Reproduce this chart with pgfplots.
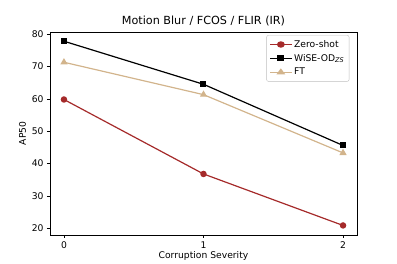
\documentclass[border=0pt]{standalone}
\usepackage{fontspec}
\setmainfont{DejaVu Sans}
\usepackage{pgfplots}
\pgfplotsset{compat=1.18}
\definecolor{zs}{HTML}{A52A2A}
\definecolor{ft}{HTML}{D2B48C}
\begin{document}
\begin{tikzpicture}[x=1pt,y=1pt]
\path[use as bounding box] (0,0) rectangle (397,264);
\begin{axis}[
  at={(50pt,29pt)}, anchor=south west,
  scale only axis, width=307pt, height=203pt,
  xmin=-0.1, xmax=2.1, ymin=17.95, ymax=80.65,
  xtick={0,1,2}, ytick={20,30,...,80},
  tick align=outside, xtick pos=bottom, ytick pos=left,
  major tick length=3pt,
  tick style={black, line width=0.5pt},
  /pgf/number format/assume math mode=true,
  ticklabel style={font=\fontsize{9.2}{10}\selectfont},
  label style={font=\fontsize{9.2}{10}\selectfont},
  xlabel={Corruption Severity}, ylabel={AP50},
  xlabel style={yshift=4pt}, ylabel style={yshift=-1pt},
  title={Motion Blur / FCOS / FLIR (IR)},
  title style={font=\fontsize{11.2}{12}\selectfont, yshift=-4pt},
  axis line style={line width=0.6pt},
  legend style={font=\fontsize{9.2}{11}\selectfont, draw=gray!50, rounded corners=2pt, inner sep=3pt, row sep=1.5pt, at={(0.975,0.985)}, anchor=north east,
    nodes={inner sep=2pt}},
  legend image post style={xscale=1.25},
  legend cell align=left,
  every axis plot/.append style={line width=1.2pt},
]
\addplot[color=zs, mark=*, mark size=2.6pt] coordinates {(0,59.8) (1,36.8) (2,20.9)};
\addlegendentry{Zero-shot}
\addplot[color=black, mark=square*, mark size=2.4pt] coordinates {(0,77.8) (1,64.5) (2,45.6)};
\addlegendentry{WiSE-OD$_{\mathit{ZS}}$}
\addplot[color=ft, mark=triangle*, mark size=3pt] coordinates {(0,71.3) (1,61.3) (2,43.3)};
\addlegendentry{FT}
\end{axis}
\end{tikzpicture}
\end{document}
